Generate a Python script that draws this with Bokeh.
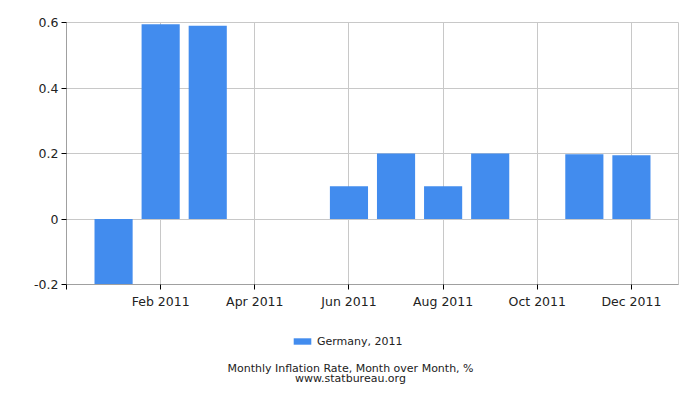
from bokeh.plotting import figure
from bokeh.models import ColumnDataSource, FixedTicker, Legend, LegendItem, Label, Range1d
from bokeh.layouts import column
from bokeh.embed import file_html
from bokeh.resources import INLINE

# Data
months = ["Jan", "Feb", "Mar", "Apr", "May", "Jun", "Jul", "Aug", "Sep", "Oct", "Nov", "Dec"]
month_index = [1, 2, 3, 4, 5, 6, 7, 8, 9, 10, 11, 12]
values = [-0.2, 0.595, 0.59, 0.0, 0.0, 0.1, 0.2, 0.1, 0.2, 0.0, 0.198, 0.195]
x_ticks = [0, 2, 4, 6, 8, 10, 12]
x_tick_labels = ["", "Feb 2011", "Apr 2011", "Jun 2011", "Aug 2011", "Oct 2011", "Dec 2011"]
y_ticks = [-0.2, 0, 0.2, 0.4, 0.6]
y_tick_labels = ["-0.2", "0", "0.2", "0.4", "0.6"]
series_name = "Germany, 2011"
title_text = "Monthly Inflation Rate, Month over Month, %"
source_text = "www.statbureau.org"

FONT = "DejaVu Sans"
BAR = "#428cee"
GRID = "#c8c8c8"
TXT = "#222222"

src = ColumnDataSource(dict(x=month_index, top=values, m=months))

p = figure(width=684, height=314, output_backend="svg", toolbar_location=None,
           x_range=Range1d(0, 13), y_range=Range1d(-0.2, 0.6),
           min_border_left=66, min_border_right=6, min_border_top=22, min_border_bottom=30)
p.outline_line_color = GRID
p.background_fill_color = "white"
p.border_fill_color = "white"

r = p.vbar(x="x", top="top", bottom=0, width=0.81, source=src, fill_color=BAR, line_color=None)

p.xaxis.ticker = FixedTicker(ticks=x_ticks)
p.xaxis.major_label_overrides = {t: l for t, l in zip(x_ticks, x_tick_labels)}
p.yaxis.ticker = FixedTicker(ticks=y_ticks)
p.yaxis.major_label_overrides = {t: l for t, l in zip(y_ticks, y_tick_labels)}
for ax in (p.xaxis, p.yaxis):
    ax.axis_line_color = "#a0a0a0"
    ax.major_tick_line_color = "#000000"
    ax.major_tick_out = 5
    ax.major_tick_in = 0
    ax.minor_tick_line_color = None
    ax.major_label_text_font = FONT
    ax.major_label_text_font_size = "12.5px"
    ax.major_label_text_color = TXT
p.xaxis.major_label_standoff = 4
p.yaxis.major_label_standoff = 3

p.xgrid.grid_line_color = GRID
p.ygrid.grid_line_color = GRID
p.xgrid.ticker = FixedTicker(ticks=x_ticks[1:])

# Caption area: legend and titles below the chart (its frame is aligned with the chart's frame)
q = figure(width=684, height=70, output_backend="svg", toolbar_location=None,
           x_range=Range1d(66, 678), y_range=Range1d(70, 0),
           x_axis_type=None, y_axis_type=None,
           min_border_left=66, min_border_right=6, min_border_top=0, min_border_bottom=0)
q.outline_line_color = None
q.xgrid.visible = False
q.ygrid.visible = False
q.background_fill_color = "white"
q.border_fill_color = "white"

# zero-height helper bar, only used to draw the legend swatch
swatch = q.vbar(x=[350], top=[0], bottom=0, width=1, fill_color=BAR, line_color=None)
legend = Legend(items=[LegendItem(label=series_name, renderers=[swatch])],
                location=(225, 36), orientation="horizontal",
                glyph_width=22, glyph_height=8, label_standoff=4, label_height=14,
                padding=0, margin=0, border_line_color=None, background_fill_alpha=0,
                label_text_font=FONT, label_text_font_size="11px", label_text_color=TXT)
q.add_layout(legend, "center")

for txt, yy in ((title_text, 54), (source_text, 64)):
    q.add_layout(Label(x=350, y=yy, text=txt, text_align="center", text_baseline="middle",
                       text_font=FONT, text_font_size="11px", text_color=TXT))

open("out.html", "w").write(file_html(column(p, q, spacing=0), INLINE))
